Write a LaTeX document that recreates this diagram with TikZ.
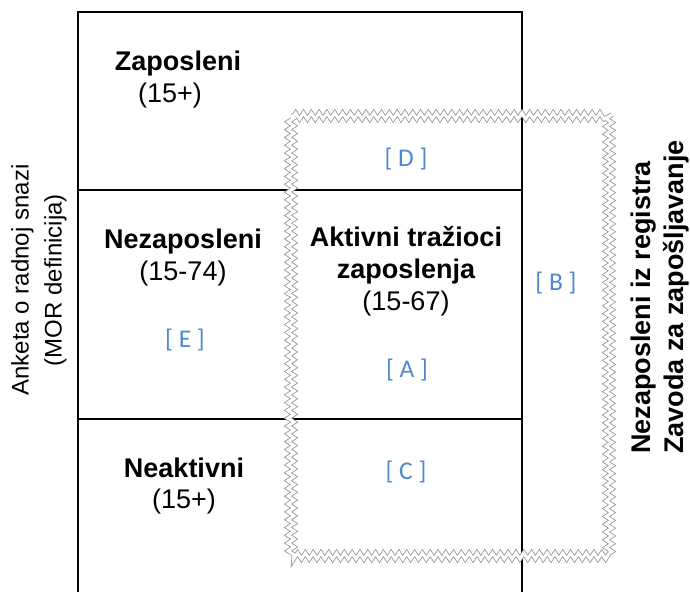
\documentclass[tikz,border=0pt]{standalone}
\usepackage{fontspec}
\setmainfont{Liberation Sans}
\newfontfamily\labelfont{Carlito}
\usetikzlibrary{decorations.pathmorphing}

\definecolor{tagblue}{RGB}{78,136,210}

\tikzset{
  txt/.style={inner sep=0pt, anchor=base, font=\fontsize{27bp}{33bp}\selectfont},
  head/.style={txt, font=\fontsize{27bp}{33bp}\selectfont\bfseries},
  tag/.style={inner sep=0pt, anchor=base, text=tagblue, font=\fontsize{25.5bp}{30bp}\selectfont\labelfont},
  wavy/.style={draw=gray!85, line width=0.8bp, double=white, double distance=3bp,
    decorate, decoration={zigzag, segment length=7.8bp, amplitude=3bp}}
}

\begin{document}
\begin{tikzpicture}[x=1bp,y=-1bp]
        \useasboundingbox (0,0) rectangle (690,592);
        \draw[line width=2bp](78,592)--(78,12)--(522,12)--(522,592);
        \draw[line width=2bp](78,190)--(522,190);
        \draw[line width=2bp](78,419)--(522,419);
        \draw[wavy](291,116) rectangle (609,556);

        \node[head](zap)at(178,71){Zaposleni};
        \node[txt](zapage)at(170,103){(15+)};
        \node[head](nez)at(183,248){Nezaposleni};
        \node[txt](nezage)at(183,280){(15-74)};
        \node[head](neak)at(184,477){Neaktivni};
        \node[txt](neakage)at(184,508){(15+)};
        \node[head](akt)at(406,246){Aktivni tražioci};
        \node[head](akt2)at(406,278){zaposlenja};
        \node[txt](aktage)at(406,310){(15-67)};

        \node[tag](tagD)at(406,167){[ D ]};
        \node[tag](tagA)at(407,377){[ A ]};
        \node[tag](tagE)at(185,347){[ E ]};
        \node[tag](tagC)at(406,479){[ C ]};
        \node[tag](tagB)at(556,290){[ B ]};

        \node[inner sep=0pt, rotate=90, align=center, font=\fontsize{24bp}{33bp}\selectfont](anketa)at(39,280){Anketa o radnoj snazi\\(MOR definicija)};
        \node[inner sep=0pt, rotate=90, anchor=west, align=left, font=\fontsize{27bp}{33bp}\selectfont\bfseries](registar)at(660,454){Nezaposleni iz registra\\Zavoda za zapošljavanje};
    \end{tikzpicture}
\end{document}
